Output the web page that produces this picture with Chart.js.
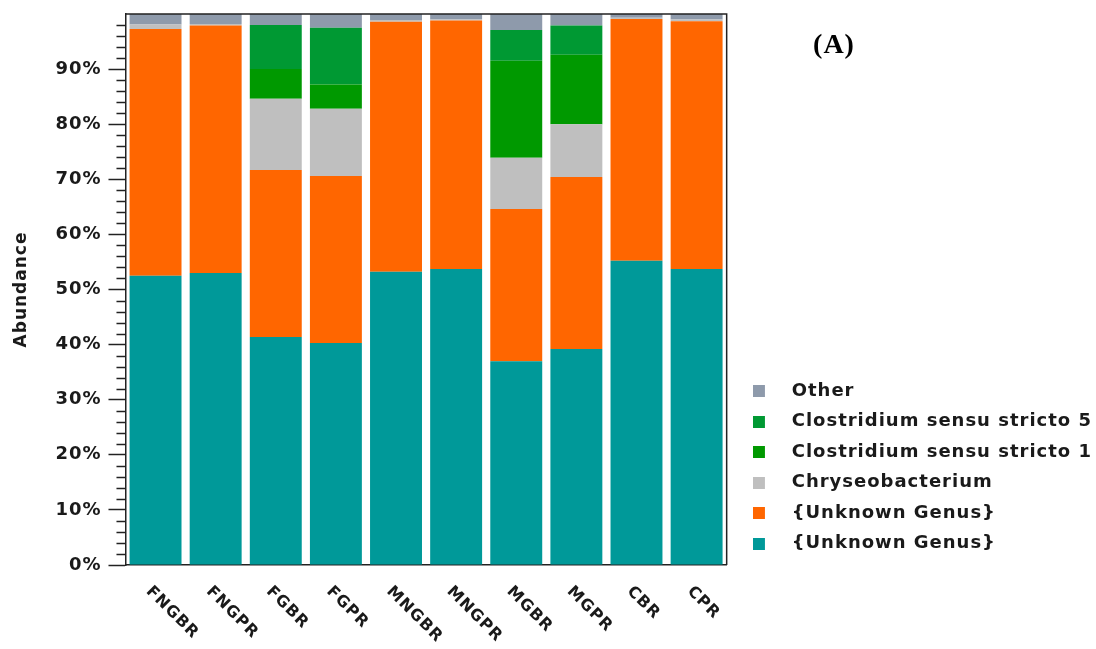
<!DOCTYPE html>
<html>
<head>
<meta charset="utf-8">
<script src="https://cdn.jsdelivr.net/npm/chart.js@4.4.1/dist/chart.umd.min.js"></script>
<style>
  html, body { margin: 0; padding: 0; background: #ffffff; }
  canvas { display: block; }
</style>
</head>
<body>
<canvas id="chart" width="1096" height="649"></canvas>
<script>
// Samples along the x axis
const samples = ['FNGBR', 'FNGPR', 'FGBR', 'FGPR', 'MNGBR', 'MNGPR', 'MGBR', 'MGPR', 'CBR', 'CPR'];

// Relative abundance (%) of each genus, bottom of the stack first
const unknownGenusTeal   = [52.5, 53.0, 41.4, 40.3, 53.2, 53.7, 37.0, 39.2, 55.2, 53.7];
const unknownGenusOrange = [44.8, 44.9, 30.3, 30.3, 45.4, 45.1, 27.6, 31.2, 43.9, 45.0];
const chryseobacterium   = [0.8, 0.3, 12.9, 12.2, 0.3, 0.2, 9.3, 9.6, 0.2, 0.3];
const clostridium1       = [0, 0, 5.4, 4.4, 0, 0, 17.6, 12.6, 0, 0];
const clostridium5       = [0, 0, 8.0, 10.3, 0, 0, 5.6, 5.3, 0, 0];
const otherGenera        = [1.9, 1.8, 2.0, 2.5, 1.1, 1.0, 2.9, 2.1, 0.7, 1.0];

// Labelled (major) ticks of the abundance axis
const yTickValues = [0, 10, 20, 30, 40, 50, 60, 70, 80, 90];
const yMinorStep = 2;

const INK = '#1a1a1a';
const FONT = '"DejaVu Sans", Verdana, sans-serif';
const SPACING = '1px';

// Legend swatch: a 12px square at the left of a wider transparent strip,
// so the label text sits further from the square.
function swatch(color) {
  const c = document.createElement('canvas');
  c.width = 30; c.height = 12;
  const g = c.getContext('2d');
  g.fillStyle = color;
  g.fillRect(0, 0, 12, 12);
  return c;
}

const series = [
  { label: '{Unknown Genus}',             data: unknownGenusTeal,   color: '#009999' },
  { label: '{Unknown Genus}',             data: unknownGenusOrange, color: '#ff6600' },
  { label: 'Chryseobacterium',            data: chryseobacterium,   color: '#bfbfbf' },
  { label: 'Clostridium sensu stricto 1', data: clostridium1,       color: '#009900' },
  { label: 'Clostridium sensu stricto 5', data: clostridium5,       color: '#009933' },
  { label: 'Other',                       data: otherGenera,        color: '#8e9aab' }
];
const swatches = series.map(s => swatch(s.color));

// Slightly wider glyph spacing for all canvas text
const spacingPlugin = {
  id: 'spacing',
  beforeUpdate(chart) { chart.ctx.letterSpacing = SPACING; },
  beforeDraw(chart) { chart.ctx.letterSpacing = SPACING; }
};

// Frame, minor ticks, rotated sample labels and panel tag
const decorPlugin = {
  id: 'decor',
  afterDraw(chart) {
    const { ctx, chartArea: a, scales: { x, y } } = chart;
    ctx.save();
    ctx.letterSpacing = SPACING;

    // top and right sides of the plot frame
    ctx.strokeStyle = '#222';
    ctx.lineWidth = 1.5;
    ctx.beginPath();
    ctx.moveTo(a.left, a.top);
    ctx.lineTo(a.right, a.top);
    ctx.lineTo(a.right, a.bottom);
    ctx.stroke();

    // minor ticks on the abundance axis
    ctx.lineWidth = 1.3;
    ctx.beginPath();
    for (let v = 0; v < 100; v += yMinorStep) {
      if (v % 10 === 0) continue;
      const py = Math.round(y.getPixelForValue(v)) + 0.5;
      ctx.moveTo(a.left - 9, py);
      ctx.lineTo(a.left, py);
    }
    ctx.stroke();

    // sample names, rotated 45 degrees clockwise
    ctx.fillStyle = INK;
    ctx.font = 'bold 16px ' + FONT;
    ctx.textAlign = 'left';
    ctx.textBaseline = 'middle';
    samples.forEach((name, i) => {
      const px = x.getPixelForValue(i);
      ctx.save();
      ctx.translate(px - 7, a.bottom + 24);
      ctx.rotate(Math.PI / 4);
      ctx.fillText(name, 0, 0);
      ctx.restore();
    });

    // panel tag
    ctx.font = 'bold 28px "Liberation Serif", "Times New Roman", serif';
    ctx.textAlign = 'center';
    ctx.textBaseline = 'alphabetic';
    ctx.fillStyle = '#000';
    ctx.fillText('(A)', 834, 53);
    ctx.restore();
  }
};

new Chart(document.getElementById('chart'), {
  type: 'bar',
  data: {
    labels: samples,
    datasets: series.map(s => ({
      label: s.label,
      data: s.data,
      backgroundColor: s.color,
      borderWidth: 0,
      categoryPercentage: 1.0,
      barPercentage: 0.864
    }))
  },
  options: {
    responsive: false,
    animation: false,
    devicePixelRatio: 1,
    layout: { padding: { left: 11, top: 14, right: -6, bottom: 76 } },
    plugins: {
      title: { display: false },
      tooltip: { enabled: false },
      legend: {
        position: 'right',
        align: 'end',
        reverse: true,
        fullSize: false,
        maxWidth: 420,
        labels: {
          usePointStyle: true,
          pointStyleWidth: 29.5,
          boxHeight: 12,
          padding: 12.5,
          color: INK,
          font: { family: FONT, size: 18, weight: 'bold' },
          generateLabels(chart) {
            const items = Chart.defaults.plugins.legend.labels.generateLabels(chart);
            items.forEach(it => { it.pointStyle = swatches[it.datasetIndex]; it.lineWidth = 0; });
            return items;
          }
        }
      }
    },
    scales: {
      x: {
        stacked: true,
        grid: { display: false },
        ticks: { display: false },
        border: { display: true, color: '#222', width: 1.5 }
      },
      y: {
        stacked: true,
        min: 0,
        max: 100,
        afterBuildTicks(scale) {
          scale.ticks = yTickValues.map(v => ({ value: v }));
        },
        afterFit(scale) {
          scale.paddingTop = 0;
          scale.paddingBottom = 0;
        },
        ticks: {
          autoSkip: false,
          padding: 7,
          color: INK,
          font: { family: FONT, size: 18, weight: 'bold' },
          callback: v => v + '%'
        },
        grid: {
          drawOnChartArea: false,
          drawTicks: true,
          tickLength: 17,
          tickColor: '#222',
          tickWidth: 1.5
        },
        border: { display: true, color: '#222', width: 1.5 },
        title: {
          display: true,
          text: 'Abundance',
          color: INK,
          font: { family: FONT, size: 17, weight: 'bold' },
          padding: { top: 0, bottom: 17 }
        }
      },
      yRight: {
        position: 'right',
        display: true,
        grid: { display: false },
        ticks: { display: false },
        border: { display: false },
        afterFit(scale) { scale.width = 14; }
      }
    }
  },
  plugins: [spacingPlugin, decorPlugin]
});
</script>
</body>
</html>
